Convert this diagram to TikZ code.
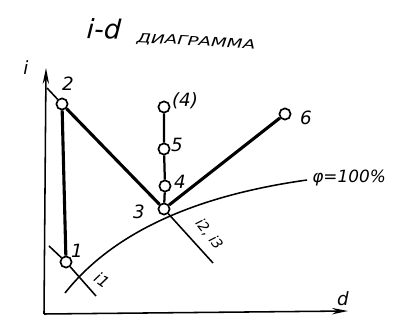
\documentclass[tikz,border=0pt]{standalone}
\usepackage{fontspec}
\setmainfont{DejaVu Sans}
\usetikzlibrary{arrows.meta}

\tikzset{
  pt/.style={circle, draw, fill=white, line width=1.2pt, minimum size=2.8mm, inner sep=0pt},
  lbl/.style={font=\fontsize{13}{13}\selectfont\itshape, inner sep=0pt},
  heavy/.style={line width=2.2pt},
  medium/.style={line width=1.6pt},
  light/.style={line width=1.1pt},
}

\begin{document}
\begin{tikzpicture}[x=0.025cm, y=-0.025cm]
    \useasboundingbox (0,0) rectangle (401,327);
    % ---- title ----
    \node[font=\fontsize{19}{19}\selectfont\itshape, rotate=-3] (ttl) at (104,29) {i-d};
    \node[font=\fontsize{9}{9}\selectfont\itshape, rotate=-3] (ttl2) at (196,42)
      {\scalebox{1.45}[1]{ДИАГРАММА}};
    % ---- axes ----
    \coordinate (o) at (44,314);
    \coordinate (itop) at (46,68);
    \coordinate (dend) at (348,311);
    \draw[light, -{Stealth[length=4mm, width=1.6mm]}] (o) -- (itop);
    \draw[light, -{Stealth[length=4mm, width=1.6mm]}] (o) -- (dend);
    \node[lbl] (ilab) at (26,68) {i};
    \node[lbl] (dlab) at (343,299) {d};
    % ---- states ----
    \node[pt] (p2) at (62,104) {};
    \node[pt] (p1) at (66,262) {};
    \node[pt] (p3) at (164,209) {};
    \node[pt] (p4) at (165,186) {};
    \node[pt] (p5) at (164,149) {};
    \node[pt] (p4b) at (164,107) {};
    \node[pt] (p6) at (285,114) {};
    \node[lbl] (l2) at (68,84) {2};
    \node[lbl] (l1) at (77,251) {1};
    \node[lbl] (l3) at (139,212) {3};
    \node[lbl] (l4) at (180,182) {4};
    \node[lbl] (l5) at (177,145) {5};
    \node[lbl] (l4b) at (185,101) {(4)};
    \node[lbl] (l6) at (306,118) {6};
    % ---- phi = 100% ----
    \coordinate (c0) at (65,293);
    \coordinate (c1) at (307,180);
    \draw[light] (c0) .. controls (115,230) and (200,195) .. (c1);
    \node[lbl, font=\fontsize{12}{12}\selectfont\itshape, anchor=west] (phi) at (312,178) {φ=100\%};
    % ---- i = const lines ----
    \coordinate (e2) at (47,88);
    \coordinate (e3) at (213,263);
    \coordinate (a1) at (49,246);
    \coordinate (b1) at (96,296);
    \draw[light] (p2) -- (e2);
    \draw[light] (p3) -- (e3);
    \draw[light] (a1) -- (p1) -- (b1);
    \node[lbl, font=\fontsize{11}{11}\selectfont\itshape, rotate=-35] (li1) at (102,280) {i1};
    \node[lbl, font=\fontsize{10}{10}\selectfont\itshape, rotate=-52] (li23) at (209,234) {i2, i3};
    % ---- process ----
    \draw[heavy] (p2) -- (p1);
    \draw[heavy] (p2) -- (p3);
    \draw[heavy] (p3) -- (p6);
    \draw[medium] (p3) -- (p4) -- (p5) -- (p4b);
\end{tikzpicture}
\end{document}
